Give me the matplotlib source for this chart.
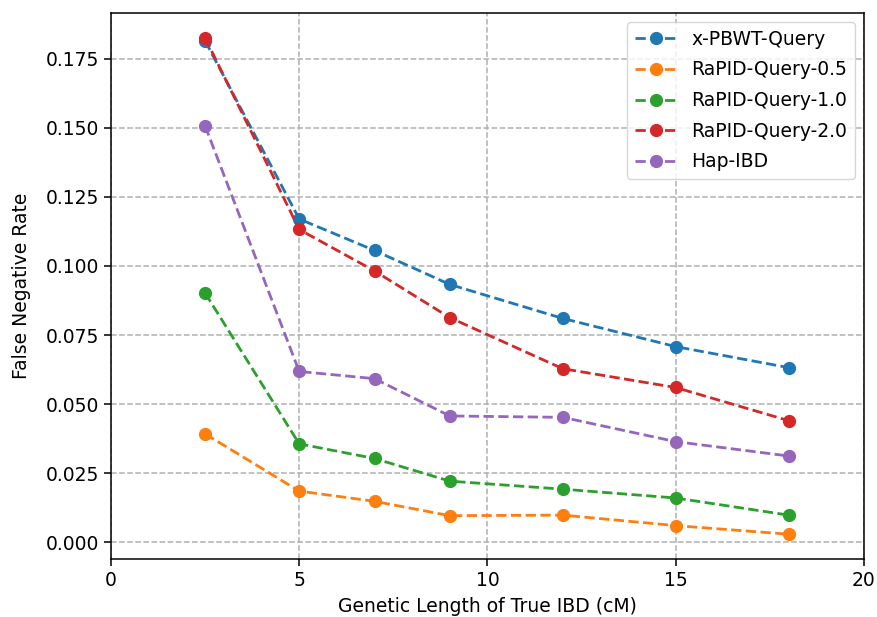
import numpy as np
import matplotlib.pyplot as plt

# longitudes geneticas (cM)
lengths = [2.5, 5, 7, 9, 12, 15, 18]

xpbwt = [0.1815, 0.117, 0.1056, 0.0933, 0.081, 0.0708, 0.0632]
rapid_05 = [0.0392, 0.0185, 0.0148, 0.0096, 0.0098, 0.0060, 0.0029]
rapid_10 = [0.0902, 0.0356, 0.0303, 0.0221, 0.0192, 0.0160, 0.0098]
rapid_20 = [0.1826, 0.1132, 0.0982, 0.0813, 0.0628, 0.0560, 0.0440]
hapibd = [0.1507, 0.0618, 0.0592, 0.0457, 0.0452, 0.0364, 0.0312]

series = [
    ('x-PBWT-Query', xpbwt),
    ('RaPID-Query-0.5', rapid_05),
    ('RaPID-Query-1.0', rapid_10),
    ('RaPID-Query-2.0', rapid_20),
    ('Hap-IBD', hapibd),
]

fig = plt.figure(figsize=(8.78, 6.17), dpi=100)
ax = fig.add_axes([0.1264, 0.094, 0.8576, 0.885])

for name, vals in series:
    ax.plot(lengths, vals, 'o--', label=name, markersize=8.5, linewidth=2)

ax.set_xlim(0, 20)
ax.set_xticks([0, 5, 10, 15, 20])
ax.set_xlabel('Genetic Length of True IBD (cM)', fontsize=13.5, labelpad=5)
ax.set_ylabel('False Negative Rate', fontsize=13.5, labelpad=11)
ax.tick_params(labelsize=13.5, length=5, width=1.1)
for s in ax.spines.values():
    s.set_linewidth(1.1)
ax.grid(True, linestyle='--', color='#b0b0b0', linewidth=1.1)
ax.legend(loc='upper right', fontsize=13.5, labelspacing=0.62, handlelength=2.2)

fig.savefig('out.png')
